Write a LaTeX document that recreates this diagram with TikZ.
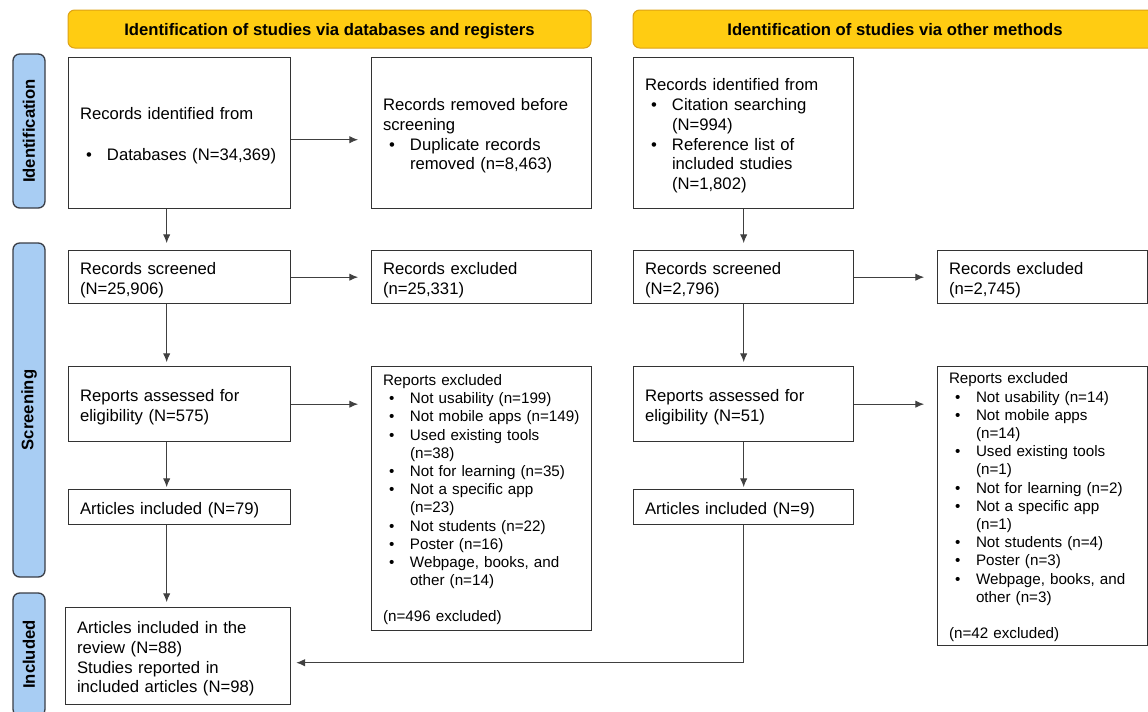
\documentclass[tikz,border=0pt]{standalone}
\usepackage{fontspec}
\setmainfont{Liberation Sans}
\usetikzlibrary{arrows.meta}
\definecolor{prismagold}{RGB}{255,204,18}
\definecolor{prismaedge}{RGB}{222,162,20}
\definecolor{phaseblue}{RGB}{168,205,243}
\definecolor{phaseedge}{RGB}{58,62,70}
\newcommand\mainfs{\fontsize{12.5}{14.8}\selectfont}
\newcommand\smallfs{\fontsize{11.4}{13.65}\selectfont}
\newcommand\itm[1]{\par\hangindent=20.25pt\hangafter=1\noindent\hbox to 20.25pt{\hskip4.5pt\textbullet\hfil}#1\par}
\newcommand\nl{\hfil\break}
\tikzset{
  box/.style={draw=black!80,line width=1pt,anchor=north west,inner xsep=8.5pt,inner ysep=0pt,align=left,font=\mainfs,text height=13.2pt},
  colA/.style={box,minimum width=166.5pt,text width=149.5pt},
  colB/.style={box,minimum width=165pt,text width=148pt},
  colD/.style={box,minimum width=157.5pt,text width=140.5pt},
  rowI/.style={minimum height=113.25pt},
  rowS/.style={minimum height=39.75pt},
  rowE/.style={minimum height=56.25pt},
  rowA/.style={minimum height=26.25pt},
  smalltext/.style={font=\smallfs,text height=10pt},
  header/.style={draw=prismaedge,fill=prismagold,line width=0.75pt,rounded corners=5pt,minimum height=28.5pt,
    text height=12pt,text depth=3pt,font=\mainfs\bfseries},
  phase/.style={draw=phaseedge,fill=phaseblue,line width=1pt,rounded corners=5pt,minimum height=24pt,rotate=90,font=\mainfs\bfseries},
  arr/.style={draw=black!75,line width=0.65pt,-{Latex[length=6.5pt,width=5.5pt]}}
}
\begin{document}
\begin{tikzpicture}[x=0.75pt,y=-0.75pt]
\path[use as bounding box,fill=white] (0,0) rectangle (1148,711);

\node[header,minimum width=392.25pt] (dbhead) at (329.5,29) {Identification of studies via databases and registers};
\node[header,minimum width=393pt] (otherhead) at (895,29) {Identification of studies via other methods};
\node[phase,minimum width=115.5pt] (idphase) at (29,131) {Identification};
\node[phase,minimum width=250.5pt] (scphase) at (29,410) {Screening};
\node[phase,minimum width=92.25pt] (inphase) at (29,654.5) {Included};

\node[colA,rowI] (recid) at (68,57) {Records identified from\par\vspace{16pt}\itm{Databases (N=34,369)}};
\node[colB,rowI] (removed) at (371,57) {Records removed before\nl screening\itm{Duplicate records\nl removed (n=8,463)}};
\node[colB,rowI] (otherid) at (633,57) {Records identified from\itm{Citation searching\nl (N=994)}\itm{Reference list of\nl included studies\nl (N=1,802)}};
\node[colA,rowS] (screenA) at (68,250) {Records screened\nl (N=25,906)};
\node[colB,rowS] (exclA) at (371,250) {Records excluded\nl (n=25,331)};
\node[colB,rowS] (screenB) at (633,250) {Records screened\nl (N=2,796)};
\node[colD,rowS] (exclB) at (937,250) {Records excluded\nl (n=2,745)};
\node[colA,rowE] (eligA) at (68,366) {Reports assessed for\nl eligibility (N=575)};
\node[colB,smalltext,minimum height=198pt] (reportsA) at (371,366) {Reports excluded
  \itm{Not usability (n=199)}\itm{Not mobile apps (n=149)}\itm{Used existing tools\nl (n=38)}
  \itm{Not for learning (n=35)}\itm{Not a specific app\nl (n=23)}\itm{Not students (n=22)}
  \itm{Poster (n=16)}\itm{Webpage, books, and\nl other (n=14)}\vspace{13.5pt}\noindent(n=496 excluded)};
\node[colB,rowE] (eligB) at (633,366) {Reports assessed for\nl eligibility (N=51)};
\node[colD,smalltext,minimum height=209.25pt] (reportsB) at (937,366) {Reports excluded
  \itm{Not usability (n=14)}\itm{Not mobile apps\nl (n=14)}\itm{Used existing tools\nl (n=1)}
  \itm{Not for learning (n=2)}\itm{Not a specific app\nl (n=1)}\itm{Not students (n=4)}
  \itm{Poster (n=3)}\itm{Webpage, books, and\nl other (n=3)}\vspace{13.5pt}\noindent(n=42 excluded)};
\node[colA,rowA] (artA) at (68,489) {Articles included (N=79)};
\node[colB,rowA] (artB) at (633,489) {Articles included (N=9)};
\node[box,minimum width=168.75pt,text width=151.75pt,minimum height=72.75pt] (review) at (65,607) {Articles included in the\nl review (N=88)\nl Studies reported in\nl included articles (N=98)};

\draw[arr] ([yshift=-4.9pt]recid.east) -- ([xshift=-9.75pt,yshift=-4.9pt]removed.west);
\draw[arr] ([xshift=-9.75pt]recid.south) -- ([xshift=-9.75pt,yshift=5.25pt]screenA.north);
\draw[arr] (screenA.east) -- ([xshift=-9.75pt]exclA.west);
\draw[arr] ([xshift=-9.75pt]screenA.south) -- ([xshift=-9.75pt,yshift=3pt]eligA.north);
\draw[arr] (eligA.east) -- ([xshift=-9.75pt]reportsA.west |- eligA.east);
\draw[arr] ([xshift=-9.75pt]eligA.south) -- ([xshift=-9.75pt,yshift=1.5pt]artA.north);
\draw[arr] ([xshift=-9.75pt]artA.south) -- ([xshift=-9.75pt,yshift=3.75pt]artA.south |- review.north);
\draw[arr] (otherid.south) -- ([yshift=5.25pt]screenB.north);
\draw[arr] (screenB.east) -- ([xshift=-9.75pt]exclB.west);
\draw[arr] (screenB.south) -- ([yshift=3pt]eligB.north);
\draw[arr] (eligB.east) -- ([xshift=-9.75pt]reportsB.west |- eligB.east);
\draw[arr] (eligB.south) -- ([yshift=1.5pt]artB.north);
\draw[arr] (artB.south) |- ([xshift=3.75pt,yshift=-4.9pt]review.east);
\end{tikzpicture}
\end{document}
